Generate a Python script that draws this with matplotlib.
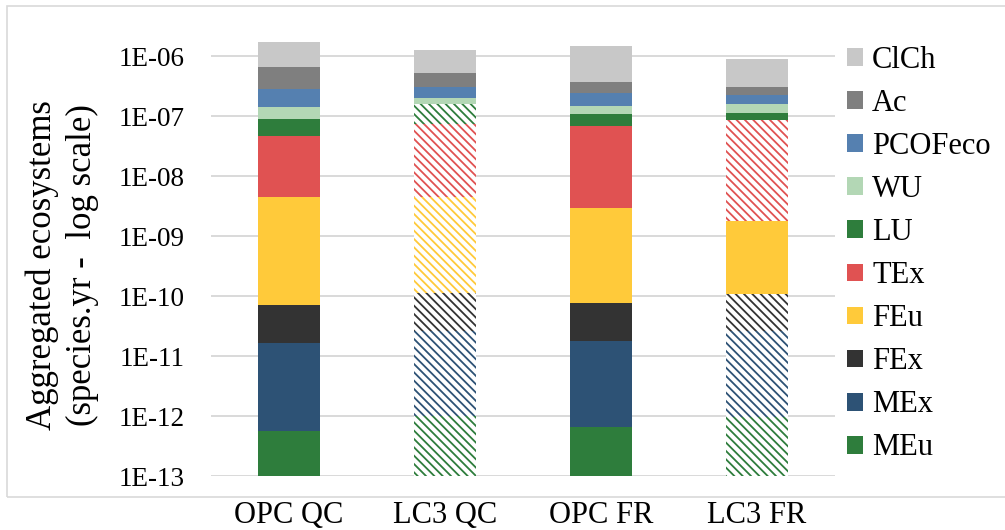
import numpy as np
import matplotlib
matplotlib.use("Agg")
import matplotlib.pyplot as plt
from matplotlib import patches as mpatches
from matplotlib.ticker import FixedLocator, FuncFormatter

plt.rcParams['font.family'] = ['Liberation Serif', 'DejaVu Serif']
plt.rcParams['hatch.linewidth'] = 1.3

# scenarios on the x axis
scenarios = ["OPC QC", "LC3 QC", "OPC FR", "LC3 FR"]

# impact categories, bottom of the stack first
categories = ["MEu", "MEx", "FEx", "FEu", "TEx", "LU", "WU", "PCOFeco", "Ac", "ClCh"]
colors = ["#2E7D3C", "#2D5275", "#333333", "#FFCA3A", "#E05252",
          "#2E7D3C", "#B3D7B5", "#5580B0", "#7F7F7F", "#C8C8C8"]

# contributions per scenario (species.yr), same order as categories
opc_qc = [5.7e-13, 1.6e-11, 5.5e-11, 4.33e-9, 4.26e-8, 4.2e-8, 5.4e-8, 1.42e-7, 3.8e-7, 1.07e-6]
lc3_qc = [1.0e-12, 2.51e-11, 8.8e-11, 4.39e-9, 6.82e-8, 8.3e-8, 4.1e-8, 1.11e-7, 2.2e-7, 7.3e-7]
opc_fr = [6.5e-13, 1.74e-11, 5.75e-11, 2.89e-9, 6.43e-8, 3.97e-8, 4.0e-8, 9.2e-8, 1.34e-7, 1.1e-6]
lc3_fr = [9.5e-13, 2.52e-11, 8.2e-11, 1.67e-9, 8.29e-8, 2.93e-8, 4.4e-8, 6.3e-8, 8.7e-8, 5.7e-7]

# which segments are drawn hatched (changed by the LC3 substitution)
hatched = [
    [False] * 10,
    [True, True, True, True, True, True, False, False, False, False],
    [False] * 10,
    [True, True, True, False, True, False, False, False, False, False],
]

data = np.array([opc_qc, lc3_qc, opc_fr, lc3_fr])

W, H = 1005, 530
fig = plt.figure(figsize=(W / 100, H / 100), dpi=100)

# light frame round the chart area
frame = mpatches.Rectangle((7 / W, 1 - 497 / H), 1.2, (497 - 6) / H, transform=fig.transFigure,
                           fill=False, edgecolor="#D9D9D9", linewidth=1.2)
fig.patches.append(frame)

ax = fig.add_axes([211 / W, 1 - 476 / H, 624 / W, (476 - 30) / H])
ax.set_yscale("log")

x = np.arange(len(scenarios))
tops = np.cumsum(data, axis=1)
bottoms = tops - data
for j, cat in enumerate(categories):
    for i in range(len(scenarios)):
        b = bottoms[i, j] if j > 0 else 1e-13
        if hatched[i][j]:
            ax.bar(x[i], tops[i, j] - b, bottom=b, width=0.4, facecolor="white",
                   edgecolor=colors[j], hatch="\\\\\\\\", linewidth=0, zorder=2)
        else:
            ax.bar(x[i], tops[i, j] - b, bottom=b, width=0.4, color=colors[j],
                   linewidth=0, zorder=2)

ax.set_xlim(-0.5, 3.5)
ax.set_ylim(1e-13, 10 ** (-6 + 26 / 60))
ax.yaxis.set_major_locator(FixedLocator([10.0 ** k for k in range(-13, -5)]))
ax.yaxis.set_minor_locator(FixedLocator([]))
ax.yaxis.set_major_formatter(FuncFormatter(lambda v, p: "1E-%02d" % round(-np.log10(v))))
ax.grid(axis="y", color="#D9D9D9", linewidth=1.4, zorder=0)
ax.set_axisbelow(True)
for s in ax.spines.values():
    s.set_visible(False)
ax.set_xticks(x)
ax.set_xticklabels(scenarios)
ax.tick_params(axis="y", length=0, pad=19, labelsize=19.5, colors="#000000")
ax.tick_params(axis="x", length=0, pad=18, labelsize=22)

fig.text(42 / W, 1 - 265 / H, "Aggregated ecosystems", rotation=90, ha="center", va="center", fontsize=25)
fig.text(82 / W, 1 - 265 / H, "(species.yr -  log scale)", rotation=90, ha="center", va="center", fontsize=25)

handles = [mpatches.Patch(facecolor=colors[j], edgecolor="none") for j in range(len(categories))][::-1]
fig.legend(handles, categories[::-1], loc="upper left", bbox_to_anchor=(847 / W, 1 - 46 / H),
           frameon=False, fontsize=22, handlelength=0.52, handleheight=0.52, handletextpad=0.3,
           labelspacing=0.46, borderaxespad=0, borderpad=0)

fig.savefig("out.png", dpi=100)
